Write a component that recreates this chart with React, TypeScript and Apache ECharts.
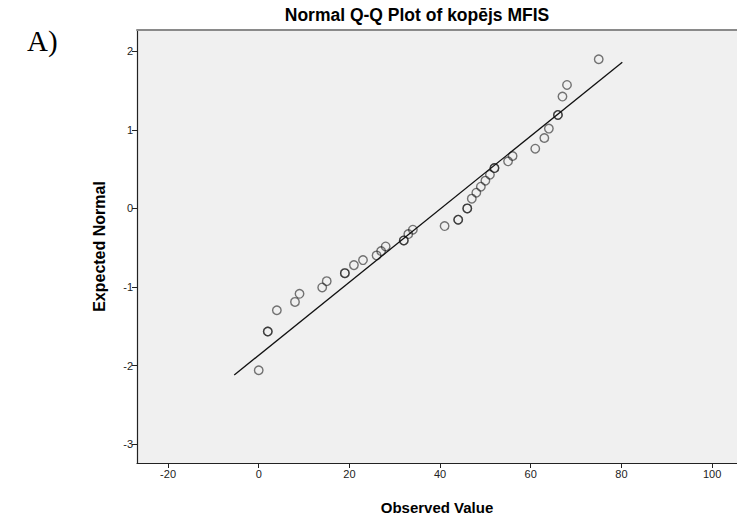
import React, { useEffect, useRef } from "react";
import * as echarts from "echarts";

const observedValues = [0, 2, 2, 4, 8, 9, 14, 15, 19, 19, 21, 23, 26, 27, 28, 32, 32, 33, 34, 41, 44, 44, 46, 46, 47, 48, 49, 50, 51, 52, 52, 55, 56, 61, 63, 64, 66, 66, 67, 68, 75];
const expectedNormal = [-2.06, -1.567, -1.567, -1.296, -1.19, -1.087, -1.006, -0.926, -0.824, -0.824, -0.722, -0.658, -0.598, -0.543, -0.484, -0.408, -0.408, -0.327, -0.271, -0.225, -0.144, -0.144, 0.0, 0.0, 0.124, 0.2, 0.276, 0.353, 0.429, 0.513, 0.513, 0.599, 0.666, 0.76, 0.896, 1.015, 1.189, 1.189, 1.423, 1.571, 1.898];

// Reference line endpoints
const lineX = [-5.4, 80.2];
const lineY = [-2.12, 1.86];

const xTicks = [-20, 0, 20, 40, 60, 80, 100];
const yTicks = [-3, -2, -1, 0, 1, 2];

const X_MIN = -26.85;
const X_MAX = 105.5;
const Y_MIN = -3.24;
const Y_MAX = 2.27;

export default function App() {
  const ref = useRef<HTMLDivElement>(null);
  useEffect(() => {
    if (!ref.current) return;
    const chart = echarts.init(ref.current, null, { renderer: "svg" });
    const font = "'Liberation Sans', Arial, sans-serif";
    chart.setOption({
      animation: false,
      backgroundColor: "#ffffff",
      title: {
        text: "Normal Q-Q Plot of kopējs MFIS",
        left: 412,
        top: 1,
        textAlign: "center",
        textStyle: { fontSize: 17.5, fontWeight: "bold", fontFamily: font, color: "#000" },
      },
      graphic: [
        {
          type: "text",
          left: 27,
          top: 26,
          style: { text: "A)", font: "29px 'Liberation Serif', 'Times New Roman', serif", fill: "#000" },
        },
      ],
      grid: {
        left: 137,
        top: 30,
        right: -1,
        bottom: 54,
        show: true,
        backgroundColor: "#f0f0f0",
        borderWidth: 0,
      },
      xAxis: [
        {
          type: "value",
          min: X_MIN,
          max: X_MAX,
          name: "Observed Value",
          nameLocation: "middle",
          nameGap: 37,
          nameTextStyle: { fontSize: 15, fontWeight: "bold", fontFamily: font, color: "#000" },
          axisLine: { show: true, onZero: false, lineStyle: { color: "#222", width: 1.2 } },
          axisTick: { show: true, customValues: xTicks, length: 5, lineStyle: { color: "#222" } },
          axisLabel: { customValues: xTicks, fontSize: 11, fontFamily: font, color: "#222", margin: 5 },
          splitLine: { show: false },
        },
        {
          type: "value",
          position: "top",
          min: X_MIN,
          max: X_MAX,
          axisLine: { show: true, onZero: false, lineStyle: { color: "#8a8a8a", width: 2 } },
          axisTick: { show: false },
          axisLabel: { show: false },
          splitLine: { show: false },
        },
      ],
      yAxis: {
        type: "value",
        min: Y_MIN,
        max: Y_MAX,
        name: "Expected Normal",
        nameLocation: "middle",
        nameGap: 30,
        nameTextStyle: { fontSize: 16, fontWeight: "bold", fontFamily: font, color: "#000" },
        axisLine: { show: true, onZero: false, lineStyle: { color: "#222", width: 1.2 } },
        axisTick: { show: true, customValues: yTicks, length: 5, lineStyle: { color: "#222" } },
        axisLabel: { customValues: yTicks, fontSize: 11, fontFamily: font, color: "#222", margin: 4 },
        splitLine: { show: false },
      },
      series: [
        {
          type: "line",
          data: lineX.map((x, i) => [x, lineY[i]]),
          showSymbol: false,
          symbol: "none",
          lineStyle: { color: "#111", width: 1.3 },
          silent: true,
        },
        {
          type: "scatter",
          data: observedValues.map((x, i) => [x, expectedNormal[i]]),
          symbol: "circle",
          symbolSize: 8.5,
          itemStyle: { color: "rgba(0,0,0,0)", borderColor: "rgba(20,20,20,0.72)", borderWidth: 1.4 },
        },
      ],
    });
    return () => chart.dispose();
  }, []);
  return <div ref={ref} style={{ position: "absolute", left: 0, top: 0, width: 737, height: 520 }} />;
}
